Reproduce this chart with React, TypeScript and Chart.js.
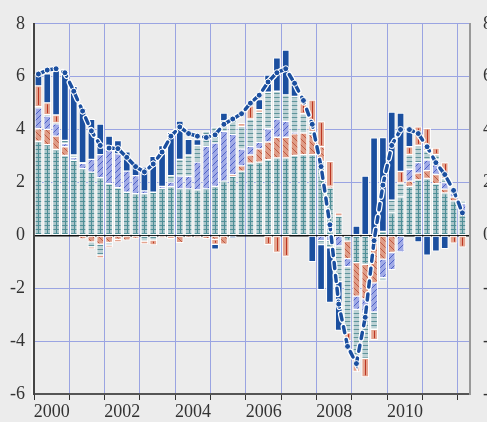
import React, { useEffect, useRef } from 'react';
import { Chart, registerables } from 'chart.js';

Chart.register(...registerables);

// Quarterly periods 2000Q1 .. 2012Q1
const firstYear = 2000;
const periodCount = 49;
const quarters: string[] = [];
for (let i = 0; i < periodCount; i++) quarters.push(`${firstYear + Math.floor(i / 4)}Q${(i % 4) + 1}`);

const yTicks = [-6, -4, -2, 0, 2, 4, 6, 8];
const xLabelYears = [2000, 2002, 2004, 2006, 2008, 2010];
const xGridYears = [2000, 2001, 2002, 2003, 2004, 2005, 2006, 2007, 2008, 2009, 2010, 2011, 2012];

// Contributions (stack order bottom -> top)
const seriesA = [3.56, 3.43, 3.25, 3.02, 2.84, 2.52, 2.39, 2.18, 1.95, 1.8, 1.63, 1.58, 1.58, 1.63, 1.77, 1.84,
  1.76, 1.76, 1.72, 1.76, 1.85, 2.05, 2.23, 2.43, 2.73, 2.77, 2.86, 2.93, 2.93, 3.02, 3.05, 3.05,
  2.8, 1.8, 0.73, -0.22, -1.03, -1.1, 0, 0.15, 0.85, 1.45, 1.85, 2.1, 2.15, 1.95, 1.6, 1.3, 0.85];
const seriesB = [0.47, 0.58, 0.5, 0.33, 0, -0.14, -0.25, -0.33, -0.27, -0.15, -0.18, -0.12, 0, 0, 0, 0,
  -0.28, -0.08, -0.1, -0.13, -0.15, -0.33, 0.06, 0.2, 0.31, 0.5, 0.67, 0.78, 0.78, 0.82, 0.82, 0.77,
  0.55, 0.05, 0, -0.66, -1.27, -1.3, -1.8, -0.9, -0.65, 0, 0.2, 0.25, 0.3, 0.35, 0.15, 0.15, 0];
const seriesC = [0.79, 0.5, 0.47, 0.12, 0.1, 0.2, 0.48, 0.87, 1.3, 1.28, 0.8, 0.68, 0.1, 0, 0.08, 0.17,
  0.48, 0.47, 1.05, 1.61, 1.64, 1.88, 1.53, 0.63, 0.33, 0.25, 0.5, 0.69, 0.6, 0.05, 0, 0,
  -0.2, -0.2, -0.4, -0.3, -0.5, -0.55, -1.1, -0.7, -0.65, -0.63, 0.45, 0.4, 0.4, 0.55, 0.25, 0.15, 0.35];
const seriesD = [0.05, 0.05, 0.03, 0.12, 0.1, 0.03, -0.19, -0.42, -0.1, 0, 0, 0, -0.22, -0.18, 0, 0.25,
  0.63, 0.81, 0.63, 0.57, 0.6, 0.4, 0.69, 0.86, 1.03, 1.13, 1.38, 1.05, 1.0, 1.36, 0.73, 0.1,
  -0.15, -0.27, -1.35, -2.5, -1.8, -1.7, -0.65, -0.12, 0.48, 0.53, 0.55, 0.65, 0.35, 0.2, 0.15, 0.15, 0.1];
const seriesE = [0.78, 0.45, 0.3, 0, 0, 0, -0.07, -0.1, -0.08, -0.1, 0, 0, -0.1, -0.18, -0.1, -0.13,
  0, 0, 0, 0, -0.19, 0, 0, 0.12, 0.5, 0.1, -0.35, -0.65, -0.8, 0, 0.38, 1.2,
  0.95, 0.95, 0.12, -0.3, -0.55, -0.7, -0.4, 0, 0, 0.44, 0.3, 0.7, 0.85, 0.25, 0.6, -0.3, -0.45];
const seriesF = [0.44, 1.1, 1.75, 2.6, 2.6, 2.05, 1.52, 1.16, 0.5, 0.5, 0.73, 0.38, 0.9, 1.36, 1.54, 1.64,
  1.45, 0.59, 0.22, 0, -0.18, 0.29, -0.1, 0, 0, 0.38, 0.65, 1.26, 1.7, 0.44, 0, -1.0,
  -1.7, -2.07, -1.85, 0, 0.35, 2.24, 3.69, 3.55, 3.33, 2.2, 0.65, -0.25, -0.75, -0.6, -0.5, 0, 0];
// Total (dashed line)
const totalLine = [6.1, 6.25, 6.3, 6.15, 5.45, 4.7, 3.95, 3.4, 3.3, 3.28, 2.95, 2.6, 2.4, 2.7, 3.15, 3.75,
  4.1, 3.85, 3.75, 3.7, 3.8, 4.2, 4.4, 4.6, 5.0, 5.3, 5.8, 6.15, 6.3, 5.75, 5.1, 4.2,
  2.6, 0.4, -2.6, -4.2, -4.85, -3.1, -0.2, 1.9, 3.4, 4.0, 4.0, 3.85, 3.35, 2.75, 2.3, 1.7, 0.85];

const FONT = '"Liberation Serif", "Times New Roman", serif';
const GRID = '#9aa4e2';
const BLUE = '#1b4f9f';

function makePattern(bg: string, fg: string, kind: 'h' | 'diagR' | 'diagL' | 'none') {
  const s = kind === 'h' ? 4 : 6;
  const c = document.createElement('canvas');
  c.width = s; c.height = s;
  const g = c.getContext('2d')!;
  g.fillStyle = bg; g.fillRect(0, 0, s, s);
  g.strokeStyle = fg; g.lineWidth = 1;
  g.beginPath();
  if (kind === 'h') {
    g.moveTo(0, 1.5); g.lineTo(s, 1.5);
  } else if (kind === 'diagR') {
    g.moveTo(0, s); g.lineTo(s, 0);
    g.moveTo(-1, 1); g.lineTo(1, -1);
    g.moveTo(s - 1, s + 1); g.lineTo(s + 1, s - 1);
  } else if (kind === 'diagL') {
    g.moveTo(0, 0); g.lineTo(s, s);
    g.moveTo(s - 1, -1); g.lineTo(s + 1, 1);
    g.moveTo(-1, s - 1); g.lineTo(1, s + 1);
  }
  g.stroke();
  return g.createPattern(c, 'repeat')!;
}

const stripePlugin = {
  id: 'stripes',
  afterDatasetDraw(chart: any, args: any) {
    const ds: any = chart.data.datasets[args.index];
    if (!ds.centerLine) return;
    const ctx = chart.ctx;
    ctx.save();
    ctx.strokeStyle = ds.centerLine;
    ctx.lineWidth = 1;
    args.meta.data.forEach((el: any) => {
      const p = el.getProps(['x', 'y', 'base'], true);
      if (p.y == null || isNaN(p.y)) return;
      const top = Math.min(p.y, p.base) + 1.5;
      const bot = Math.max(p.y, p.base) - 1.5;
      if (bot - top < 1) return;
      const x = Math.round(p.x) + 0.5;
      ctx.beginPath(); ctx.moveTo(x, top); ctx.lineTo(x, bot); ctx.stroke();
    });
    ctx.restore();
  },
  afterDraw(chart: any) {
    const { ctx, chartArea } = chart;
    ctx.save();
    ctx.strokeStyle = '#ffffff';
    ctx.lineWidth = 1;
    ctx.beginPath();
    ctx.moveTo(chartArea.left - 2, chartArea.top);
    ctx.lineTo(chartArea.left - 2, chartArea.bottom + 1);
    ctx.stroke();
    ctx.restore();
  },
};

export default function App() {
  const ref = useRef<HTMLCanvasElement>(null);

  useEffect(() => {
    if (!ref.current) return;
    const xs = quarters.map((q) => {
      const y = Number(q.slice(0, 4));
      const n = Number(q.slice(5));
      return y + (n - 0.5) / 4;
    });
    const pts = (arr: number[]) => arr.map((v, i) => ({ x: xs[i], y: v === 0 ? null : v }));
    const linePts = (arr: number[]) => arr.map((v, i) => ({ x: xs[i], y: v }));

    const barBase = {
      type: 'bar' as const,
      barThickness: 7,
      borderColor: '#ffffff',
      borderWidth: 1,
      borderSkipped: false as const,
      order: 0,
    };

    const datasets: any[] = [
      { ...barBase, label: 'A', data: pts(seriesA), backgroundColor: makePattern('#a9c5c9', '#4f8f97', 'h'), centerLine: '#4f8f97' },
      { ...barBase, label: 'B', data: pts(seriesB), backgroundColor: makePattern('#df9c87', '#c05a42', 'diagL') },
      { ...barBase, label: 'C', data: pts(seriesC), backgroundColor: makePattern('#a0aae6', '#4f62c6', 'diagR') },
      { ...barBase, label: 'D', data: pts(seriesD), backgroundColor: makePattern('#bdd2d5', '#5f949b', 'h') },
      { ...barBase, label: 'E', data: pts(seriesE), backgroundColor: '#e4a48f', centerLine: '#bb3522' },
      { ...barBase, label: 'F', data: pts(seriesF), backgroundColor: BLUE },
      {
        type: 'line', label: 'halo', data: linePts(totalLine), stack: 'halo', order: -1,
        borderColor: '#ffffff', borderWidth: 6, borderDash: [6, 7], borderCapStyle: 'round',
        pointRadius: 0, fill: false, tension: 0,
      },
      {
        type: 'line', label: 'Total', data: linePts(totalLine), stack: 'total', order: -2,
        borderColor: BLUE, borderWidth: 3.5, borderDash: [6, 7], borderCapStyle: 'round',
        pointRadius: 3, pointBackgroundColor: BLUE, pointBorderColor: '#ffffff', pointBorderWidth: 1,
        fill: false, tension: 0,
      },
    ];

    const tickFont = { family: FONT, size: 18 };
    const tickVals = [...xGridYears, ...xLabelYears.map((y) => y + 0.5)].sort((a, b) => a - b);

    const chart = new Chart(ref.current, {
      type: 'bar',
      data: { datasets },
      plugins: [stripePlugin],
      options: {
        animation: false,
        responsive: false,
        devicePixelRatio: 1,
        layout: { padding: { top: 23, left: 0, right: 0, bottom: 0 } },
        plugins: { legend: { display: false }, tooltip: { enabled: false } },
        scales: {
          x: {
            type: 'linear',
            stacked: true,
            offset: false,
            min: 2000,
            max: 2012.34,
            afterBuildTicks: (s: any) => { s.ticks = tickVals.map((v) => ({ value: v })); },
            afterFit: (s: any) => { s.height = 28; },
            ticks: {
              autoSkip: false,
              maxRotation: 0,
              padding: 1,
              color: '#333333',
              font: tickFont,
              callback: (v: any) => (xLabelYears.includes(Number(v) - 0.5) ? String(Number(v) - 0.5) : ''),
            },
            grid: {
              offset: false,
              color: (c: any) => (c.tick && Number.isInteger(c.tick.value) ? GRID : 'rgba(0,0,0,0)'),
              tickColor: (c: any) => (c.tick && Number.isInteger(c.tick.value) ? '#333333' : 'rgba(0,0,0,0)'),
              tickLength: 6,
              lineWidth: 1,
            },
            border: { color: '#555555', width: 2 },
          },
          y: {
            stacked: true,
            min: -6,
            max: 8,
            afterBuildTicks: (s: any) => { s.ticks = yTicks.map((v) => ({ value: v })); },
            afterFit: (s: any) => { s.width = 34; },
            ticks: { padding: 9, color: '#333333', font: tickFont },
            grid: {
              color: (c: any) => (c.tick && c.tick.value === 0 ? '#111111' : GRID),
              lineWidth: (c: any) => (c.tick && c.tick.value === 0 ? 1.5 : 1),
              drawTicks: false,
            },
            border: { color: '#444444', width: 2 },
          },
          y2: {
            position: 'right',
            min: -6,
            max: 8,
            afterBuildTicks: (s: any) => { s.ticks = yTicks.map((v) => ({ value: v })); },
            afterFit: (s: any) => { s.width = 35; },
            ticks: { padding: 13, color: '#333333', font: tickFont },
            grid: { display: false, drawTicks: false },
            border: { color: '#999999', width: 2 },
          },
        },
      } as any,
    });
    return () => chart.destroy();
  }, []);

  return (
    <div style={{ position: 'fixed', left: 0, top: 0, width: 487, height: 422, overflow: 'hidden', background: '#ececec' }}>
      <canvas ref={ref} width={505} height={422} style={{ display: 'block' }} />
    </div>
  );
}
